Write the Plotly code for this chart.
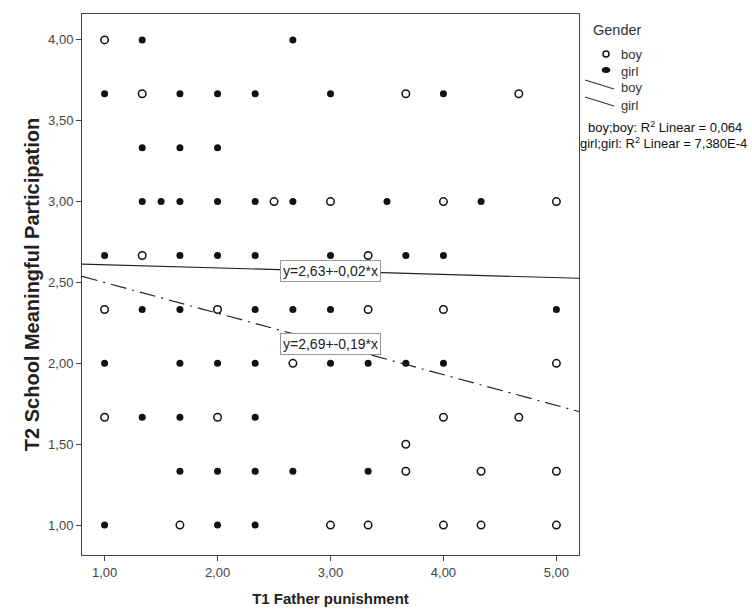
import plotly.graph_objects as go

# ---- data ----
boy_x = [1, 1.333, 3.667, 4.667,
         2.5, 3, 4, 5,
         1.333, 3.333,
         1, 2, 3.333, 4,
         2.667, 5,
         1, 2, 4, 4.667,
         3.667,
         3.667, 4.333, 5,
         1.667, 3, 3.333, 4, 4.333, 5]
boy_y = [4, 3.667, 3.667, 3.667,
         3, 3, 3, 3,
         2.667, 2.667,
         2.333, 2.333, 2.333, 2.333,
         2, 2,
         1.667, 1.667, 1.667, 1.667,
         1.5,
         1.333, 1.333, 1.333,
         1, 1, 1, 1, 1, 1]

girl_x = [1.333, 2.667,
          1, 1.667, 2, 2.333, 3, 4,
          1.333, 1.667, 2,
          1.333, 1.5, 1.667, 2, 2.333, 2.667, 3.5, 4.333,
          1, 1.667, 2, 2.333, 3, 3.667, 4,
          1.333, 1.667, 2.333, 2.667, 3, 5,
          1, 1.667, 2, 2.333, 3, 3.333, 3.667, 4,
          1.333, 1.667, 2.333,
          1.667, 2, 2.333, 2.667, 3.333,
          1, 2, 2.333]
girl_y = [4, 4,
          3.667, 3.667, 3.667, 3.667, 3.667, 3.667,
          3.333, 3.333, 3.333,
          3, 3, 3, 3, 3, 3, 3, 3,
          2.667, 2.667, 2.667, 2.667, 2.667, 2.667, 2.667,
          2.333, 2.333, 2.333, 2.333, 2.333, 2.333,
          2, 2, 2, 2, 2, 2, 2, 2,
          1.667, 1.667, 1.667,
          1.333, 1.333, 1.333, 1.333, 1.333,
          1, 1, 1]

# fit lines (intercept, slope)
boy_fit = (2.69, -0.19)
girl_fit = (2.63, -0.02)
boy_r2_text = "boy;boy: R<sup>2</sup> Linear = 0,064"
girl_r2_text = "girl;girl: R<sup>2</sup> Linear = 7,380E-4"
legend_title = "Gender"
group_names = ["boy", "girl"]

x_range = [0.8, 5.2]
y_range = [0.815, 4.16]
x_ticks = [1, 2, 3, 4, 5]
x_ticklabels = ["1,00", "2,00", "3,00", "4,00", "5,00"]
y_ticks = [1, 1.5, 2, 2.5, 3, 3.5, 4]
y_ticklabels = ["1,00", "1,50", "2,00", "2,50", "3,00", "3,50", "4,00"]

FONT = "Liberation Sans, Arial, sans-serif"

# plot area in window px: 82..579 x 14..555
PL, PR, PT, PB = 82, 579, 14, 555
W, H = 752, 610
def px(v):
    return (v - PL) / (PR - PL)
def py(v):
    return (PB - v) / (PB - PT)

fig = go.Figure()

fig.add_trace(go.Scatter(
    x=boy_x, y=boy_y, mode="markers", name=group_names[0],
    marker=dict(symbol="circle-open", size=7.5, color="#111", line=dict(width=1.5, color="#111"))))
fig.add_trace(go.Scatter(
    x=girl_x, y=girl_y, mode="markers", name=group_names[1],
    marker=dict(symbol="circle", size=7, color="#111")))

lx = x_range
fig.add_trace(go.Scatter(
    x=lx, y=[boy_fit[0] + boy_fit[1] * v for v in lx], mode="lines", name=group_names[0],
    line=dict(color="#222", width=1.2, dash="16px,6px,2px,6px")))
fig.add_trace(go.Scatter(
    x=lx, y=[girl_fit[0] + girl_fit[1] * v for v in lx], mode="lines", name=group_names[1],
    line=dict(color="#222", width=1.2)))

def eq_text(a, b):
    return "y=" + f"{a:.2f}".replace(".", ",") + "+" + f"{b:.2f}".replace(".", ",") + "*x"

for (a, b) in [girl_fit, boy_fit]:
    fig.add_annotation(
        x=3, y=a + b * 3, xref="x", yref="y", text=eq_text(a, b), showarrow=False,
        font=dict(family=FONT, size=14, color="#222"),
        bgcolor="white", bordercolor="#999", borderwidth=1, borderpad=2)

# ---- manual legend (window px positions) ----
shapes = []
fig.add_annotation(x=px(591), y=py(30), xref="paper", yref="paper", xanchor="left", yanchor="middle",
                   text=legend_title, showarrow=False, font=dict(family=FONT, size=14.5, color="#333"))
shapes.append(dict(type="circle", xref="paper", yref="paper",
                   x0=px(603), x1=px(609), y0=py(51), y1=py(57),
                   line=dict(color="#111", width=1.5), fillcolor="white"))
shapes.append(dict(type="circle", xref="paper", yref="paper",
                   x0=px(602), x1=px(610), y0=py(67.5), y1=py(72.5),
                   line=dict(color="#111", width=1), fillcolor="#111"))
shapes.append(dict(type="line", xref="paper", yref="paper",
                   x0=px(585), x1=px(614), y0=py(80), y1=py(89), line=dict(color="#333", width=1.1)))
shapes.append(dict(type="line", xref="paper", yref="paper",
                   x0=px(585), x1=px(614), y0=py(97), y1=py(106), line=dict(color="#333", width=1.1)))
for name, yy in zip(group_names + group_names, [54, 71, 88, 105]):
    fig.add_annotation(x=px(619), y=py(yy), xref="paper", yref="paper", xanchor="left", yanchor="middle",
                       text=name, showarrow=False, font=dict(family=FONT, size=13, color="#333"))

fig.add_annotation(x=px(665), y=py(127), xref="paper", yref="paper", xanchor="center", yanchor="middle",
                   text=boy_r2_text, showarrow=False, font=dict(family=FONT, size=13, color="#111"))
fig.add_annotation(x=px(663), y=py(143), xref="paper", yref="paper", xanchor="center", yanchor="middle",
                   text=girl_r2_text, showarrow=False, font=dict(family=FONT, size=13, color="#111"))

fig.update_layout(
    width=W, height=H,
    margin=dict(l=PL, r=W - PR, t=PT, b=H - PB),
    paper_bgcolor="white", plot_bgcolor="white",
    font=dict(family=FONT, size=13, color="#333"),
    showlegend=False,
    shapes=shapes,
    xaxis=dict(range=x_range, tickvals=x_ticks, ticktext=x_ticklabels, automargin=False,
               showgrid=False, zeroline=False, showline=True, mirror=True,
               linecolor="#444", linewidth=1, ticks="outside", ticklen=5, tickcolor="#444",
               tickfont=dict(family=FONT, size=13, color="#444"),
               title=dict(text="<b>T1 Father punishment</b>", standoff=14,
                          font=dict(family=FONT, size=15, color="#222"))),
    yaxis=dict(range=y_range, tickvals=y_ticks, ticktext=y_ticklabels, automargin=False,
               showgrid=False, zeroline=False, showline=True, mirror=True,
               linecolor="#444", linewidth=1, ticks="outside", ticklen=5, tickcolor="#444",
               tickfont=dict(family=FONT, size=13, color="#444"),
               title=dict(text="<b>T2 School Meaningful Participation</b>", standoff=3,
                          font=dict(family=FONT, size=20, color="#222"))),
)

fig.write_html("out.html", config={"displayModeBar": False},
               post_script="document.body.style.margin='0';document.body.style.overflow='hidden';")
